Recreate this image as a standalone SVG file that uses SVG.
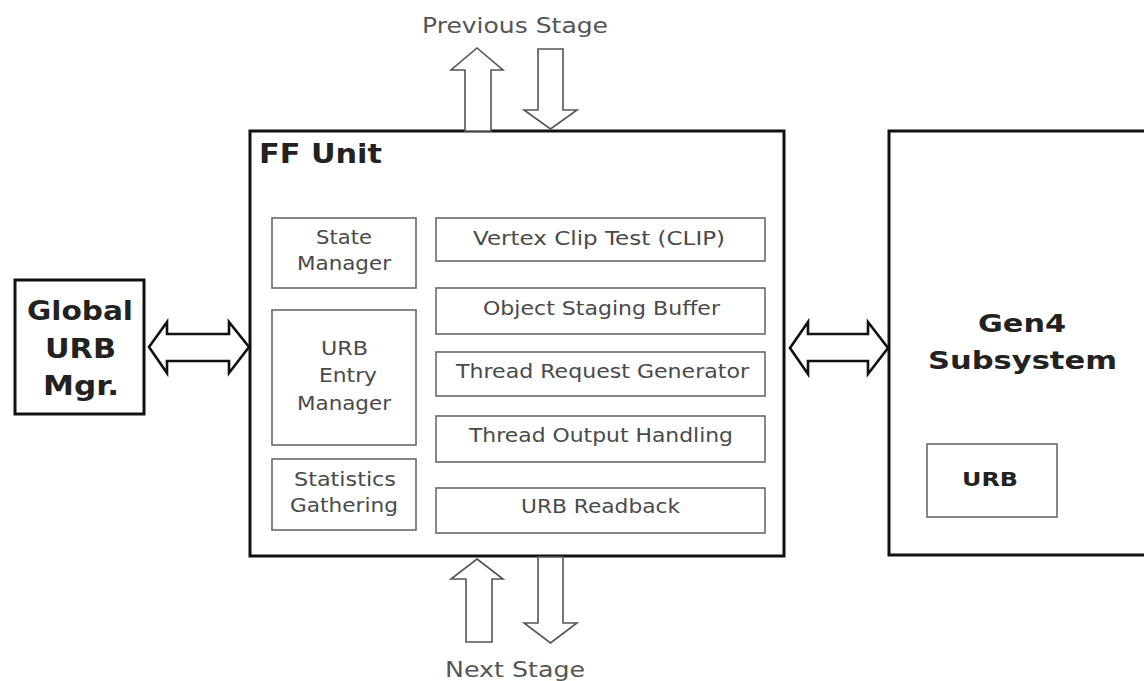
<svg xmlns="http://www.w3.org/2000/svg" width="1144" height="681" viewBox="0 0 1144 681">
  <style>
    .outer { fill: #ffffff; stroke: #111111; stroke-width: 3; }
    .inner { fill: #ffffff; stroke: #6a6a6a; stroke-width: 1.6; }
    .lbl { font-family: "DejaVu Sans", Verdana, sans-serif; font-size: 19px; fill: #4a4a4a; text-anchor: middle; }
    .ttl { font-family: "DejaVu Sans", Verdana, sans-serif; font-weight: bold; fill: #222222; }
    .stage { font-family: "DejaVu Sans", Verdana, sans-serif; font-size: 21px; fill: #555555; text-anchor: middle; }
    .bus { fill: #ffffff; stroke: #111111; stroke-width: 2.6; stroke-linejoin: miter; }
    .flow { fill: #ffffff; stroke: #555555; stroke-width: 1.6; stroke-linejoin: miter; }
  </style>

  <rect width="1144" height="681" fill="#ffffff"/>

  <!-- stage labels -->
  <text class="stage" x="515" y="33" textLength="186" lengthAdjust="spacingAndGlyphs">Previous Stage</text>
  <text class="stage" x="515" y="677" textLength="140" lengthAdjust="spacingAndGlyphs">Next Stage</text>

  <!-- Global URB manager -->
  <g id="global-urb-mgr">
    <rect class="outer" x="15" y="280" width="129" height="134"/>
    <text class="ttl" x="80" y="320" font-size="26" text-anchor="middle" textLength="106" lengthAdjust="spacingAndGlyphs">Global</text>
    <text class="ttl" x="80.5" y="358" font-size="26" text-anchor="middle" textLength="71" lengthAdjust="spacingAndGlyphs">URB</text>
    <text class="ttl" x="81" y="395" font-size="26" text-anchor="middle" textLength="76" lengthAdjust="spacingAndGlyphs">Mgr.</text>
  </g>

  <!-- FF unit -->
  <g id="ff-unit">
    <rect class="outer" x="250" y="131" width="534" height="425"/>
    <text class="ttl" x="259" y="163" font-size="26" textLength="123" lengthAdjust="spacingAndGlyphs">FF Unit</text>
  </g>

  <g id="state-manager">
    <rect class="inner" x="272" y="218" width="144" height="70"/>
    <text class="lbl" x="344" y="244" textLength="56" lengthAdjust="spacingAndGlyphs">State</text>
    <text class="lbl" x="344" y="270" textLength="94" lengthAdjust="spacingAndGlyphs">Manager</text>
  </g>

  <g id="urb-entry-manager">
    <rect class="inner" x="272" y="310" width="144" height="135"/>
    <text class="lbl" x="344.5" y="355" textLength="47" lengthAdjust="spacingAndGlyphs">URB</text>
    <text class="lbl" x="348" y="382" textLength="58" lengthAdjust="spacingAndGlyphs">Entry</text>
    <text class="lbl" x="344" y="410" textLength="94" lengthAdjust="spacingAndGlyphs">Manager</text>
  </g>

  <g id="statistics-gathering">
    <rect class="inner" x="272" y="459" width="144" height="71"/>
    <text class="lbl" x="345" y="486" textLength="102" lengthAdjust="spacingAndGlyphs">Statistics</text>
    <text class="lbl" x="344" y="512" textLength="108" lengthAdjust="spacingAndGlyphs">Gathering</text>
  </g>

  <g id="vertex-clip-test">
    <rect class="inner" x="436" y="218" width="329" height="43"/>
    <text class="lbl" x="599" y="245" textLength="252" lengthAdjust="spacingAndGlyphs">Vertex Clip Test (CLIP)</text>
  </g>

  <g id="object-staging-buffer">
    <rect class="inner" x="436" y="288" width="329" height="46"/>
    <text class="lbl" x="601.5" y="315" textLength="237" lengthAdjust="spacingAndGlyphs">Object Staging Buffer</text>
  </g>

  <g id="thread-request-generator">
    <rect class="inner" x="436" y="352" width="329" height="44"/>
    <text class="lbl" x="602.5" y="378" textLength="293" lengthAdjust="spacingAndGlyphs">Thread Request Generator</text>
  </g>

  <g id="thread-output-handling">
    <rect class="inner" x="436" y="416" width="329" height="46"/>
    <text class="lbl" x="601" y="442" textLength="264" lengthAdjust="spacingAndGlyphs">Thread Output Handling</text>
  </g>

  <g id="urb-readback">
    <rect class="inner" x="436" y="488" width="329" height="45"/>
    <text class="lbl" x="600.5" y="513" textLength="159" lengthAdjust="spacingAndGlyphs">URB Readback</text>
  </g>

  <!-- Gen4 subsystem (runs past the right edge) -->
  <g id="gen4-subsystem">
    <rect class="outer" x="889" y="131" width="270" height="424"/>
    <text class="ttl" x="1022" y="332" font-size="25" text-anchor="middle" textLength="88" lengthAdjust="spacingAndGlyphs">Gen4</text>
    <text class="ttl" x="1022.5" y="369" font-size="25" text-anchor="middle" textLength="189" lengthAdjust="spacingAndGlyphs">Subsystem</text>
  </g>

  <g id="gen4-urb">
    <rect class="inner" x="927" y="444" width="130" height="73"/>
    <text class="ttl" x="990" y="486" font-size="20" text-anchor="middle" textLength="56" lengthAdjust="spacingAndGlyphs">URB</text>
  </g>

  <!-- connectors -->
  <g id="connectors">
    <!-- Global URB Mgr <-> FF unit -->
    <polygon class="bus" points="149,347 167,322 167,334 229,334 229,322 249,347 229,373 229,361 167,361 167,373"/>
    <!-- FF unit <-> Gen4 subsystem -->
    <polygon class="bus" points="790,348 808,322 808,334 868,334 868,322 888,348 868,374 868,361 808,361 808,374"/>
    <!-- to previous stage -->
    <polygon class="flow" points="465,131 465,70 451,70 477,48 503,70 491,70 491,131"/>
    <!-- from previous stage -->
    <polygon class="flow" points="538,49 563,49 563,110 577,110 550.5,129 524,110 538,110"/>
    <!-- from next stage -->
    <polygon class="flow" points="477,559 503,579 492,579 492,642 466,642 466,579 451,579"/>
    <!-- to next stage -->
    <polygon class="flow" points="538,557 563,557 563,623 577,623 550.5,643 524,623 538,623"/>
  </g>
</svg>
